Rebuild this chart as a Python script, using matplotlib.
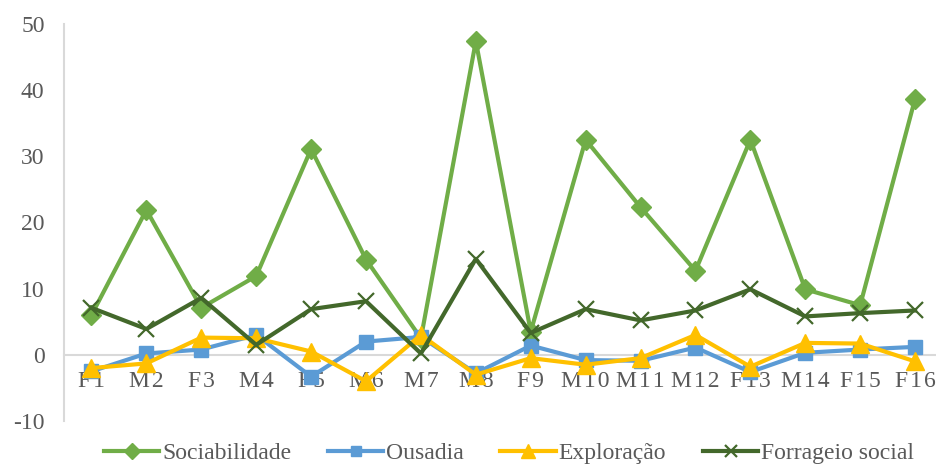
import matplotlib
matplotlib.use("Agg")
import matplotlib.pyplot as plt

plt.rcParams["font.family"] = ["Liberation Serif", "DejaVu Serif"]
plt.rcParams["axes.unicode_minus"] = False

categories = ["F1", "M2", "F3", "M4", "F5", "M6", "M7", "M8",
              "F9", "M10", "M11", "M12", "F13", "M14", "F15", "F16"]

sociabilidade = [6.0, 21.9, 7.1, 11.9, 31.1, 14.4, 2.5, 47.4,
                 3.5, 32.5, 22.3, 12.7, 32.5, 9.9, 7.5, 38.7]
ousadia = [-2.5, 0.2, 0.8, 3.0, -3.3, 2.0, 2.7, -2.8,
           1.4, -0.8, -0.9, 1.1, -2.6, 0.3, 0.8, 1.2]
exploracao = [-2.0, -1.3, 2.6, 2.5, 0.5, -4.0, 3.0, -3.0,
              -0.5, -1.5, -0.5, 3.0, -1.8, 1.8, 1.7, -1.0]
forrageio = [7.1, 3.9, 8.6, 1.5, 6.9, 8.1, 0.2, 14.5,
             3.3, 6.9, 5.2, 6.7, 9.9, 5.8, 6.3, 6.7]

series_names = ["Sociabilidade", "Ousadia", "Exploração", "Forrageio social"]

fig = plt.figure(figsize=(9.36, 4.66), dpi=100)
ax = fig.add_axes([0.0684, 0.0966, 0.9386, 0.852])

x = list(range(len(categories)))
lw = 3.0
ax.plot(x, sociabilidade, color="#70AD47", lw=lw, marker="D", ms=10.5,
        label=series_names[0], zorder=3)
ax.plot(x, ousadia, color="#5B9BD5", lw=lw, marker="s", ms=10.5,
        label=series_names[1], zorder=4)
ax.plot(x, exploracao, color="#FFC000", lw=lw, marker="^", ms=12.5,
        label=series_names[2], zorder=5)
ax.plot(x, forrageio, color="#43682B", lw=lw, marker="x", ms=11, mew=1.6,
        label=series_names[3], zorder=6)

ax.set_xlim(-0.5, len(categories) - 0.5)
ax.set_ylim(-10, 50)
ax.set_yticks(range(-10, 51, 10))

for s in ["top", "right"]:
    ax.spines[s].set_visible(False)
ax.spines["left"].set_color("#D9D9D9")
ax.spines["left"].set_linewidth(1.5)
ax.spines["bottom"].set_position(("data", 0))
ax.spines["bottom"].set_color("#D9D9D9")
ax.spines["bottom"].set_linewidth(1.5)
ax.spines["bottom"].set_zorder(1)

# category labels are set with slightly expanded letter spacing
ax.set_xticks(x)
ax.set_xticklabels(["\u200a".join(c) for c in categories])
ax.tick_params(axis="both", length=0, colors="#595959", labelsize=17)
ax.tick_params(axis="y", pad=14)
ax.tick_params(axis="x", pad=12)

leg = fig.legend(loc="center", bbox_to_anchor=(509 / 936, 1 - 453 / 466),
                 ncol=4, frameon=False, handlelength=2.35,
                 columnspacing=1.55, handletextpad=0.12, markerscale=0.75,
                 prop={"size": 17})
for t in leg.get_texts():
    t.set_color("#595959")

fig.savefig("out.png", dpi=100)
